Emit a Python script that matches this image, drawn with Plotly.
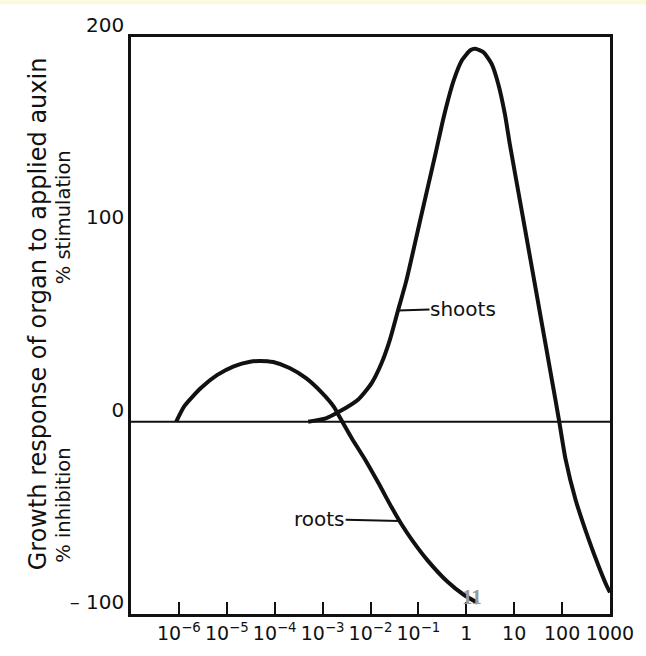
import plotly.graph_objects as go

# ---- data (log10 of auxin concentration, % growth response) ----
roots_log_conc = [-6.056, -5.883, -5.541, -5.198, -4.854, -4.513, -4.307, -4.031, -3.690,
                  -3.346, -3.002, -2.764, -2.626, -2.385, -2.111, -1.837, -1.562, -1.356,
                  -1.117, -0.809, -0.397, -0.053, 0.235]
roots_response = [0, 8.2, 17.5, 24.3, 28.8, 31.2, 31.6, 31.0, 27.9,
                  22.6, 14.7, 7.7, 1.6, -8.9, -19.8, -31.8, -44.4, -53.2,
                  -62.1, -72.1, -83.1, -90.0, -94.2]

shoots_log_conc = [-3.30, -2.934, -2.660, -2.249, -1.973, -1.768, -1.597, -1.426, -1.253,
                   -0.959, -0.636, -0.465, -0.259, -0.088, 0.084, 0.187, 0.358, 0.529,
                   0.667, 0.805, 0.907, 1.119, 1.346, 1.572, 1.798, 1.936, 2.072,
                   2.278, 2.553, 2.759, 2.930, 3.0]
shoots_response = [0, 1.7, 5.1, 11.7, 20.2, 30.5, 42.4, 57.8, 73.2,
                   105.1, 140.1, 159.1, 177.7, 188.0, 193.1, 193.9, 192.1, 186.0,
                   175.6, 160.0, 144.5, 115.0, 83.4, 51.8, 20.2, 0.7, -19.5,
                   -40.3, -61.1, -74.9, -85.3, -88.8]

zero_line_log_conc = [-7, 3]
zero_line_response = [0, 0]

x_tick_exponents = [-6, -5, -4, -3, -2, -1, 0, 1, 2, 3]
x_tick_labels = ["10<sup>\u22126</sup>", "10<sup>\u22125</sup>", "10<sup>\u22124</sup>",
                 "10<sup>\u22123</sup>", "10<sup>\u22122</sup>", "10<sup>\u22121</sup>",
                 "1", "10", "100", "1000"]
y_tick_values = [200, 100, 0, -100]
y_tick_labels = ["200", "100", "0", "\u2013 100"]

# label anchor points on the curves (log10 conc, response)
shoots_label_point = (-1.426, 57.8)
roots_label_point = (-1.391, -51.7)

FONT = "DejaVu Sans"
INK = "#111111"

fig = go.Figure()
fig.add_trace(go.Scatter(
    x=[10 ** v for v in zero_line_log_conc], y=zero_line_response,
    mode="lines", line=dict(color=INK, width=2), hoverinfo="skip"))
fig.add_trace(go.Scatter(
    x=[10 ** v for v in roots_log_conc], y=roots_response, name="roots",
    mode="lines", line=dict(color=INK, width=4, shape="spline", smoothing=0.6)))
fig.add_trace(go.Scatter(
    x=[10 ** v for v in shoots_log_conc], y=shoots_response, name="shoots",
    mode="lines", line=dict(color=INK, width=4, shape="spline", smoothing=0.6)))

fig.update_layout(
    width=646, height=656,
    margin=dict(l=131, r=27, t=37, b=38),
    paper_bgcolor="white", plot_bgcolor="white",
    showlegend=False,
    font=dict(family=FONT, color=INK),
    xaxis=dict(
        type="log", range=[-7, 3],
        tickvals=[10 ** e for e in x_tick_exponents], ticktext=x_tick_labels,
        ticks="inside", ticklen=12, tickwidth=2, tickcolor=INK,
        showline=True, linecolor=INK, linewidth=2.5, mirror=True,
        showgrid=False, zeroline=False, ticklabeloverflow="allow",
        tickfont=dict(family=FONT, size=19, color=INK),
    ),
    yaxis=dict(
        range=[-100, 200],
        tickvals=y_tick_values, ticktext=y_tick_labels,
        ticks="", ticklabelshift=-12, ticklabeloverflow="allow",
        showline=True, linecolor=INK, linewidth=2.5, mirror=True,
        showgrid=False, zeroline=False,
        tickfont=dict(family=FONT, size=20, color=INK),
    ),
)

annotations = [
    dict(text="Growth response of organ to applied auxin", textangle=-90,
         xref="paper", yref="paper", x=-0.1947, y=0.5207,
         xanchor="center", yanchor="middle", showarrow=False,
         font=dict(family=FONT, size=24, color=INK)),
    dict(text="% stimulation", textangle=-90,
         xref="paper", yref="paper", x=-0.1414, y=0.688,
         xanchor="center", yanchor="middle", showarrow=False,
         font=dict(family=FONT, size=19.5, color=INK)),
    dict(text="% inhibition", textangle=-90,
         xref="paper", yref="paper", x=-0.1414, y=0.188,
         xanchor="center", yanchor="middle", showarrow=False,
         font=dict(family=FONT, size=19.5, color=INK)),
    dict(text="shoots", x=shoots_label_point[0], y=shoots_label_point[1],
         xref="x", yref="y", showarrow=True, arrowhead=0, arrowwidth=2,
         arrowcolor=INK, ax=65, ay=-2, standoff=0, borderpad=0,
         font=dict(family=FONT, size=20, color=INK)),
    dict(text="roots", x=roots_label_point[0], y=roots_label_point[1],
         xref="x", yref="y", showarrow=True, arrowhead=0, arrowwidth=2,
         arrowcolor=INK, ax=-80, ay=-2, standoff=0, borderpad=0,
         font=dict(family=FONT, size=20, color=INK)),
    dict(text="<b>11</b>", xref="paper", yref="paper", x=0.711, y=0.03,
         xanchor="center", yanchor="middle", showarrow=False,
         font=dict(family="Liberation Serif", size=21, color="#9a9a9a")),
]
fig.update_layout(annotations=annotations)

# thin pale yellow band at the very top of the slide
fig.add_shape(type="rect", xref="paper", yref="paper",
              x0=-0.3, x1=1.1, y0=1 + 33 / 581, y1=1 + 37 / 581,
              fillcolor="#fbf8dc", line=dict(width=0), layer="below")

fig.write_html(
    "out.html",
    config={"displayModeBar": False},
    post_script="document.body.style.margin='0px';document.body.style.overflow='hidden';",
)
